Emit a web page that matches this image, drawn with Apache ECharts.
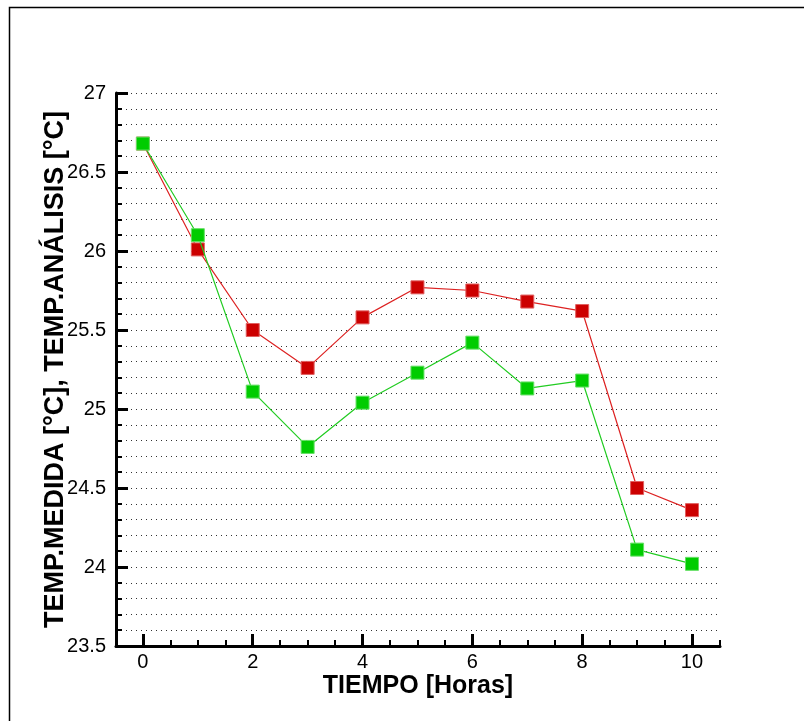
<!DOCTYPE html>
<html>
<head>
<meta charset="utf-8">
<script src="https://cdn.jsdelivr.net/npm/echarts@6/dist/echarts.min.js"></script>
<style>html,body{margin:0;padding:0;background:#fff}#c{width:804px;height:721px}</style>
</head>
<body>
<div id="c"></div>
<script>
var hours = [0, 1, 2, 3, 4, 5, 6, 7, 8, 9, 10];
var tempMedida = [26.68, 26.01, 25.50, 25.26, 25.58, 25.77, 25.75, 25.68, 25.62, 24.50, 24.36];
var tempAnalisis = [26.68, 26.10, 25.11, 24.76, 25.04, 25.23, 25.42, 25.13, 25.18, 24.11, 24.02];
var xMajorTicks = [0, 2, 4, 6, 8, 10];
var xMinorTicks = [0.5, 1, 1.5, 2.5, 3, 3.5, 4.5, 5, 5.5, 6.5, 7, 7.5, 8.5, 9, 9.5, 10.5];

function pairs(xs, ys) { return xs.map(function (x, i) { return [x, ys[i]]; }); }

var chart = echarts.init(document.getElementById('c'), null, { renderer: 'canvas' });
var font = 'Liberation Sans, Arial, sans-serif';
chart.setOption({
  animation: false,
  backgroundColor: '#fff',
  graphic: [{
    type: 'rect', shape: { x: 9.5, y: 7.5, width: 820, height: 740 },
    style: { fill: null, stroke: '#000', lineWidth: 1.5 }, silent: true
  }],
  grid: { left: 116, right: 84, top: 93, bottom: 75, containLabel: false },
  xAxis: [{
    type: 'value', min: -0.49, max: 10.51,
    name: 'TIEMPO [Horas]', nameLocation: 'middle', nameGap: 28, nameMoveOverlap: false,
    nameTextStyle: { fontFamily: font, fontSize: 25, fontWeight: 'bold', color: '#000' },
    axisLine: { show: true, onZero: false, lineStyle: { color: '#000', width: 3 } },
    axisTick: { show: true, inside: true, length: 12, customValues: xMajorTicks, lineStyle: { color: '#000', width: 3 } },
    axisLabel: { show: true, customValues: xMajorTicks, margin: 6, fontFamily: font, fontSize: 20, color: '#000' },
    splitLine: { show: false }
  }, {
    type: 'value', min: -0.49, max: 10.51, position: 'bottom',
    axisLine: { show: false, onZero: false },
    axisTick: { show: true, inside: true, length: 6, customValues: xMinorTicks, lineStyle: { color: '#000', width: 2 } },
    axisLabel: { show: false },
    splitLine: { show: false }
  }],
  yAxis: {
    type: 'value', min: 23.5, max: 27, interval: 0.5,
    name: 'TEMP.MEDIDA [°C], TEMP.ANÁLISIS [°C]', nameLocation: 'middle', nameGap: 47, nameMoveOverlap: false,
    nameTextStyle: { fontFamily: font, fontSize: 27, fontWeight: 'bold', color: '#000' },
    axisLine: { show: true, onZero: false, lineStyle: { color: '#000', width: 3 } },
    axisTick: { show: true, inside: true, length: 12, lineStyle: { color: '#000', width: 3 } },
    minorTick: { show: true, splitNumber: 5, length: 6, lineStyle: { color: '#000', width: 2 } },
    axisLabel: { margin: 10, fontFamily: font, fontSize: 20, color: '#000' },
    splitLine: { show: true, lineStyle: { color: '#333', width: 1, type: [1, 4] } },
    minorSplitLine: { show: true, lineStyle: { color: '#333', width: 1, type: [1, 4] } }
  },
  series: [{
    name: 'TEMP.MEDIDA', type: 'line', data: pairs(hours, tempMedida),
    symbol: 'rect', symbolSize: 13,
    itemStyle: { color: '#cc0000', borderColor: '#e06060', borderWidth: 1 },
    lineStyle: { color: '#dd2222', width: 1.2 }, z: 3
  }, {
    name: 'TEMP.ANÁLISIS', type: 'line', data: pairs(hours, tempAnalisis),
    symbol: 'rect', symbolSize: 13,
    itemStyle: { color: '#00cc00', borderColor: '#66e066', borderWidth: 1 },
    lineStyle: { color: '#22cc22', width: 1.2 }, z: 4
  }]
});
</script>
</body>
</html>
